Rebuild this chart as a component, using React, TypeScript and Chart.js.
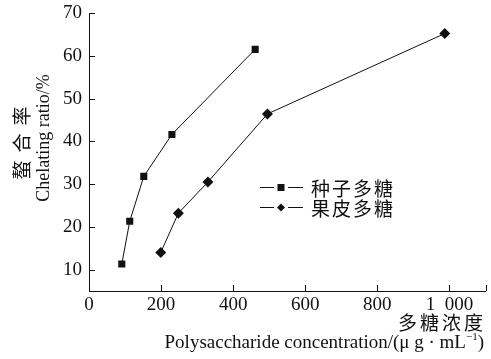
import { useEffect, useRef } from 'react';
import { Chart, registerables } from 'chart.js';

Chart.register(...registerables);

// Chelating ratio vs. polysaccharide concentration
const seedConc = [91, 113, 152, 230, 461];
const seedRatio = [11.3, 21.3, 31.8, 41.6, 61.5];
const peelConc = [199, 248, 330, 495, 987];
const peelRatio = [14.0, 23.2, 30.5, 46.4, 65.2];

const seriesNames = ['种子多糖', '果皮多糖'];
const xTicks = [0, 200, 400, 600, 800, 1000];
const xTickLabels = ['0', '200', '400', '600', '800', '1\u2002000'];
const yTicks = [10, 20, 30, 40, 50, 60, 70];
const xTitleCn = '多糖浓度';
const xTitleEn = 'Polysaccharide concentration/(μ g · mL';
const xTitleSup = '−1';
const xTitleTail = ')';
const yTitleCn = '螯合率';
const yTitleEn = 'Chelating ratio/%';

const X_MIN = 0;
const X_MAX = 1100;
const Y_MIN = 5;
const Y_MAX = 70;

const SERIF = '"Liberation Serif", "Times New Roman", serif';
const CJK = '"Noto Sans CJK SC", sans-serif';
const INK = '#111';

const decorations = {
  id: 'decorations',
  afterDraw(chart: any) {
    const { ctx, chartArea, scales } = chart;
    const xs = scales.x;
    const ys = scales.y;
    ctx.save();
    ctx.strokeStyle = INK;
    ctx.lineWidth = 1;

    // inward tick marks
    ctx.beginPath();
    [...xTicks, X_MAX].forEach((v) => {
      const px = Math.round(xs.getPixelForValue(v)) + 0.5;
      ctx.moveTo(px, chartArea.bottom);
      ctx.lineTo(px, chartArea.bottom - 6);
    });
    yTicks.forEach((v) => {
      const py = Math.round(ys.getPixelForValue(v)) + 0.5;
      ctx.moveTo(chartArea.left, py);
      ctx.lineTo(chartArea.left + 6, py);
    });
    ctx.stroke();

    // legend
    const rows = [187, 207];
    chart.data.datasets.forEach((ds: any, i: number) => {
      const y = rows[i] + 0.5;
      ctx.beginPath();
      ctx.moveTo(260, y);
      ctx.lineTo(274, y);
      ctx.moveTo(288, y);
      ctx.lineTo(303, y);
      ctx.stroke();
      ctx.fillStyle = INK;
      ctx.beginPath();
      if (ds.pointStyle === 'rect') {
        ctx.rect(277.5, y - 3.5, 7, 7);
      } else {
        ctx.moveTo(281, y - 4);
        ctx.lineTo(285, y);
        ctx.lineTo(281, y + 4);
        ctx.lineTo(277, y);
        ctx.closePath();
      }
      ctx.fill();
      ctx.font = `19px ${CJK}`;
      ctx.textAlign = 'left';
      ctx.textBaseline = 'middle';
      (ctx as any).letterSpacing = '2px';
      ctx.fillText(ds.label, 311, y + 1);
      (ctx as any).letterSpacing = '0px';
    });

    // x axis title
    ctx.fillStyle = INK;
    ctx.textBaseline = 'middle';
    ctx.textAlign = 'right';
    ctx.font = `19px ${CJK}`;
    (ctx as any).letterSpacing = '3px';
    ctx.fillText(xTitleCn, 486, 323);
    (ctx as any).letterSpacing = '0px';

    const right = 484;
    ctx.font = `19px ${SERIF}`;
    const wMain = ctx.measureText(xTitleEn).width;
    const wTail = ctx.measureText(xTitleTail).width;
    ctx.font = `11px ${SERIF}`;
    const wSup = ctx.measureText(xTitleSup).width;
    let x0 = right - wMain - wSup - wTail;
    ctx.textAlign = 'left';
    ctx.font = `19px ${SERIF}`;
    ctx.fillText(xTitleEn, x0, 343);
    x0 += wMain;
    ctx.font = `11px ${SERIF}`;
    ctx.fillText(xTitleSup, x0, 337);
    x0 += wSup;
    ctx.font = `19px ${SERIF}`;
    ctx.fillText(xTitleTail, x0, 343);

    // y axis title (rotated)
    ctx.save();
    ctx.translate(22, 143);
    ctx.rotate(-Math.PI / 2);
    ctx.textAlign = 'center';
    ctx.font = `19px ${CJK}`;
    (ctx as any).letterSpacing = '8px';
    ctx.fillText(yTitleCn, 4, 0);
    (ctx as any).letterSpacing = '0px';
    ctx.restore();

    ctx.save();
    ctx.translate(44, 138);
    ctx.rotate(-Math.PI / 2);
    ctx.textAlign = 'center';
    ctx.font = `18px ${SERIF}`;
    ctx.fillText(yTitleEn, 0, 0);
    ctx.restore();

    ctx.restore();
  },
};

export default function App() {
  const canvasRef = useRef<HTMLCanvasElement | null>(null);

  useEffect(() => {
    document.body.style.margin = '0';
    const canvas = canvasRef.current;
    if (!canvas) return;
    const chart = new Chart(canvas, {
      type: 'line',
      data: {
        datasets: [
          {
            label: seriesNames[0],
            data: seedConc.map((x, i) => ({ x, y: seedRatio[i] })),
            borderColor: INK,
            backgroundColor: INK,
            borderWidth: 1,
            pointStyle: 'rect',
            pointRadius: 5,
            pointBorderWidth: 0,
            tension: 0,
          },
          {
            label: seriesNames[1],
            data: peelConc.map((x, i) => ({ x, y: peelRatio[i] })),
            borderColor: INK,
            backgroundColor: INK,
            borderWidth: 1,
            pointStyle: 'rectRot',
            pointRadius: 5.5,
            pointBorderWidth: 0,
            tension: 0,
          },
        ],
      },
      options: {
        animation: false,
        responsive: false,
        devicePixelRatio: 1,
        layout: { padding: { top: 13, right: 5, left: 0, bottom: 0 } },
        plugins: {
          legend: { display: false },
          tooltip: { enabled: false },
        },
        scales: {
          x: {
            type: 'linear',
            min: X_MIN,
            max: X_MAX,
            afterBuildTicks: (s: any) => {
              s.ticks = xTicks.map((v) => ({ value: v }));
            },
            afterFit: (s: any) => {
              s.height = 68;
              s.paddingLeft = 0;
              s.paddingRight = 0;
            },
            grid: { display: false, drawTicks: false },
            border: { display: true, color: INK, width: 1 },
            ticks: {
              autoSkip: false,
              maxRotation: 0,
              padding: 3,
              color: INK,
              font: { family: SERIF, size: 19 },
              callback: (v: any) => {
                const i = xTicks.indexOf(Number(v));
                return i >= 0 ? xTickLabels[i] : '';
              },
            },
          },
          y: {
            type: 'linear',
            min: Y_MIN,
            max: Y_MAX,
            afterBuildTicks: (s: any) => {
              s.ticks = yTicks.map((v) => ({ value: v }));
            },
            afterFit: (s: any) => {
              s.width = 89;
              s.paddingTop = 0;
              s.paddingBottom = 0;
            },
            grid: { display: false, drawTicks: false },
            border: { display: true, color: INK, width: 1 },
            ticks: {
              autoSkip: false,
              padding: 7,
              color: INK,
              font: { family: SERIF, size: 19 },
            },
          },
        },
      },
      plugins: [decorations],
    });
    return () => chart.destroy();
  }, []);

  return (
    <div style={{ width: 491, height: 359, position: 'relative' }}>
      <canvas ref={canvasRef} width={491} height={359} style={{ width: 491, height: 359 }} />
    </div>
  );
}
